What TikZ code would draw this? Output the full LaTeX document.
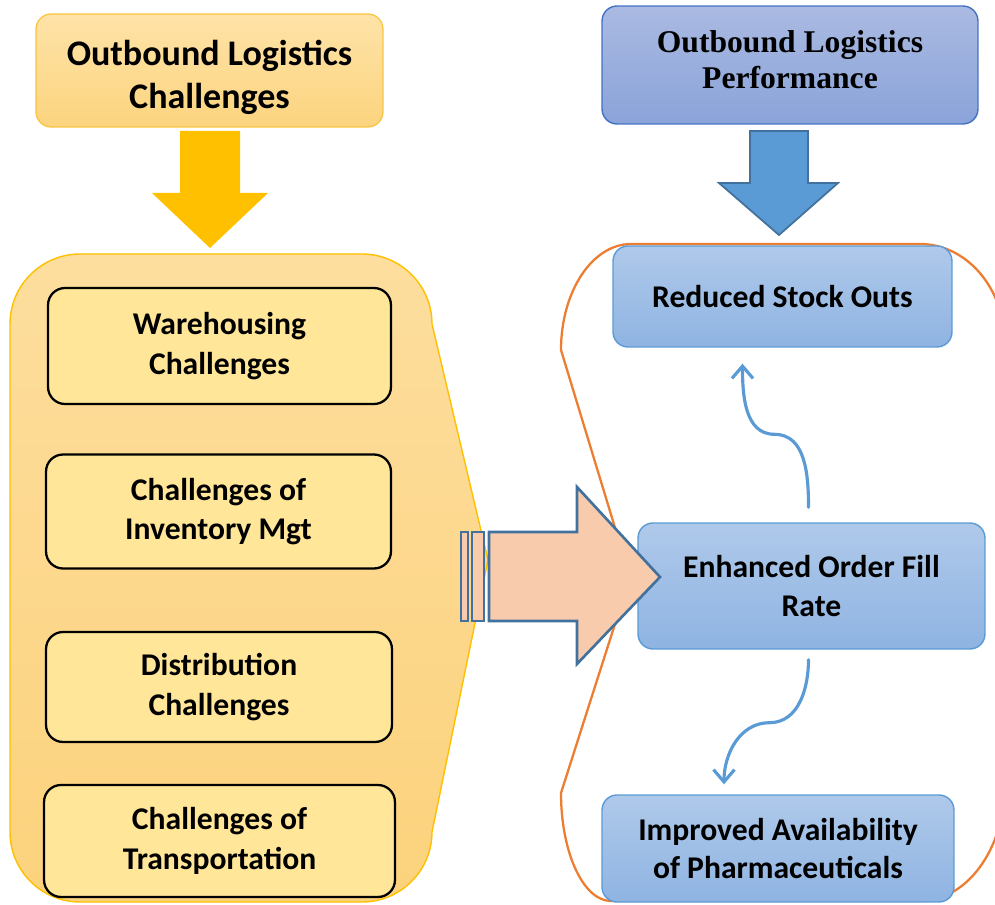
\documentclass[tikz,border=0pt]{standalone}
\usepackage{fontspec}
\setmainfont{Carlito}
\newfontfamily\timesbf{Liberation Serif}
\usepackage{tikz}
\usetikzlibrary{arrows.meta}

\definecolor{goldline}{HTML}{FFC000}
\definecolor{titletop}{HTML}{FEE3A8}
\definecolor{titlebot}{HTML}{FCD47F}
\definecolor{titleline}{HTML}{F8C441}
\definecolor{conttop}{HTML}{FDDE9E}
\definecolor{contbot}{HTML}{FCD27C}
\definecolor{chalfill}{HTML}{FFE699}
\definecolor{perftop}{HTML}{AFC9EA}
\definecolor{perfbot}{HTML}{8FB4E2}
\definecolor{perfline}{HTML}{5B9BD5}
\definecolor{headtop}{HTML}{AABAE2}
\definecolor{headbot}{HTML}{8AA3D9}
\definecolor{headline}{HTML}{4472C4}
\definecolor{darkline}{HTML}{41719C}
\definecolor{peachfill}{HTML}{F8CBAD}
\definecolor{bracketline}{HTML}{ED7D31}

\tikzset{
  titlebox/.style={draw=titleline, line width=0.7pt, top color=titletop, bottom color=titlebot,
    rounded corners=0.3cm, minimum width=6.94cm, minimum height=2.26cm},
  titletext/.style={align=center, font=\bfseries\fontsize{20.5}{24.5}\selectfont},
  headbox/.style={draw=headline, line width=0.8pt, top color=headtop, bottom color=headbot,
    rounded corners=0.3cm, minimum width=7.52cm, minimum height=2.36cm},
  headtext/.style={align=center, font=\timesbf\bfseries\fontsize{18}{20.5}\selectfont},
  chalbox/.style={draw=black, line width=1.3pt, fill=chalfill, rounded corners=0.34cm,
    minimum width=6.86cm, minimum height=2.28cm, align=center,
    font=\bfseries\fontsize{18}{22.5}\selectfont},
  perfbox/.style={draw=perfline, line width=0.8pt, top color=perftop, bottom color=perfbot,
    rounded corners=0.3cm, align=center, font=\bfseries\fontsize{18}{22}\selectfont},
  curvy/.style={draw=perfline, line width=1.8pt, -{Straight Barb[length=7pt,width=12pt]}},
  peach/.style={draw=darkline, line width=1.5pt, fill=peachfill, line join=miter},
}

\begin{document}
\begin{tikzpicture}[x=0.02cm, y=0.02cm, line cap=round]
  \useasboundingbox (0,0) rectangle (995,904);
  \clip (0,0) rectangle (995,904);

  % left side: challenges
  \node[titlebox] (chal) at (209.5,833.5) {};
  \node[titletext] (chaltext) at ([shift={(0,-7)}]chal.center) {Outbound Logistics\\Challenges};
  \fill[goldline] (180,773) -- (240,773) -- (240,711) -- (268,711) -- (210,656)
    -- (152,711) -- (180,711) -- cycle;
  \draw[draw=goldline, line width=0.8pt, top color=conttop, bottom color=contbot]
    (10,580) -- (10,72) arc[start angle=180, end angle=270, radius=70]
    -- (362,2) arc[start angle=270, end angle=360, radius=70]
    -- (488,344) -- (432,580) arc[start angle=0, end angle=90, radius=70]
    -- (80,650) arc[start angle=90, end angle=180, radius=70] -- cycle;
  \node[chalbox, minimum height=2.32cm] (ware) at (219.5,558) {Warehousing\\Challenges};
  \node[chalbox, minimum width=6.9cm] (inv) at (218.5,392.5) {Challenges of\\Inventory Mgt};
  \node[chalbox, minimum width=6.92cm, minimum height=2.2cm] (dist) at (219,217) {Distribution\\Challenges};
  \node[chalbox, minimum width=7.02cm, minimum height=2.24cm] (trans) at (219.5,63) {Challenges of\\Transportation};

  % right side: performance
  \draw[bracketline, line width=1.3pt]
    (561,554) arc[start angle=180, end angle=90, x radius=70, y radius=106]
    -- (920,660) arc[start angle=90, end angle=0, x radius=85, y radius=100]
    -- (1005,120) arc[start angle=0, end angle=-90, x radius=85, y radius=117]
    -- (611,3) arc[start angle=270, end angle=180, x radius=50, y radius=108]
    -- (630,327) -- cycle;
  \node[headbox] (perf) at (790,839) {};
  \node[headtext] (perftext) at ([shift={(0,5)}]perf.center) {Outbound Logistics\\Performance};
  \draw[draw=darkline, line width=1pt, fill=perfline, line join=miter]
    (750,773) -- (808,773) -- (808,721) -- (838,721) -- (779,669)
    -- (719,721) -- (750,721) -- cycle;
  \node[perfbox, minimum width=6.78cm, minimum height=2.02cm] (red) at (782.5,607.5) {Reduced Stock Outs};
  \node[perfbox, minimum width=6.94cm, minimum height=2.52cm] (enh) at (811.5,318) {Enhanced Order Fill\\Rate};
  \node[perfbox, minimum width=7.04cm, minimum height=2.14cm] (imp) at (778,55.5) {Improved Availability\\of Pharmaceuticals};
  \draw[curvy] ([shift={(-3,15)}]enh.north) to[out=90, in=0] ++(-34,73)
    to[out=180, in=-90] ([shift={(-40,-16)}]red.south);
  \draw[curvy] ([shift={(-3,-10)}]enh.south) to[out=-90, in=0] ++(-39,-63)
    to[out=180, in=90] ([shift={(-54,10)}]imp.north);

  % striped block arrow into the order fill rate
  \draw[peach] (461,283) rectangle (468,372);
  \draw[peach] (472,283) rectangle (484,372);
  \draw[peach] (489,283) -- (489,372) -- (577,372) -- (577,417) -- (660,327)
    -- (577,240) -- (577,283) -- cycle;
\end{tikzpicture}
\end{document}
